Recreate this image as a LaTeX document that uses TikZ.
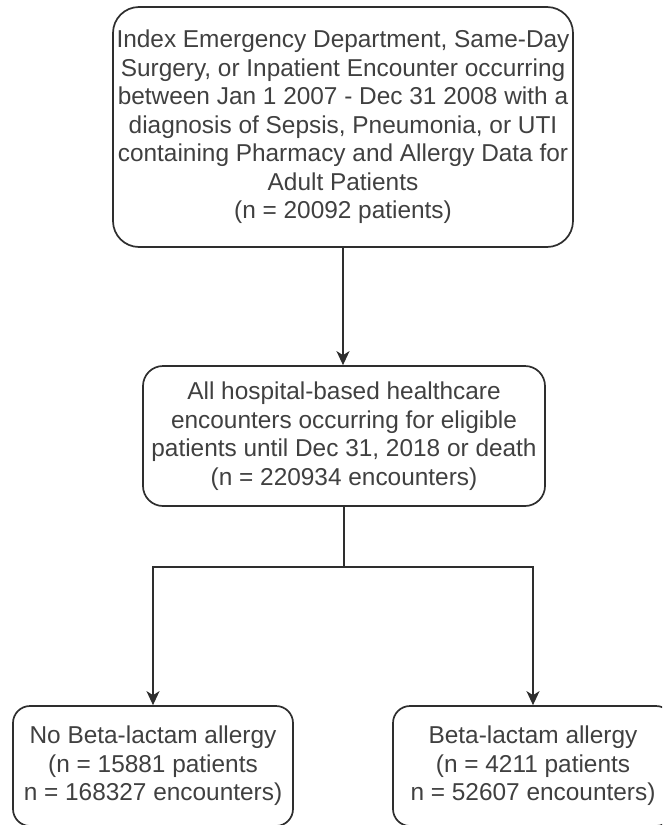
\documentclass[tikz,border=0pt]{standalone}
\usepackage{fontspec}
\setmainfont{Liberation Sans}
\usetikzlibrary{arrows.meta}
\definecolor{linec}{HTML}{2E2E2E}
\definecolor{textc}{HTML}{404040}
\begin{document}
\begin{tikzpicture}[x=1pt,y=-1pt,
  box/.style={draw=linec, line width=1.7pt, fill=white, inner sep=0pt,
    align=center, text=textc, font=\fontsize{24.4}{28.5}\selectfont},
  link/.style={draw=linec, line width=1.7pt},
  tip/.style={-{Stealth[length=14pt,width=13pt,inset=4pt]}}]
\useasboundingbox (0,0) rectangle (662,825);
\clip (0,0) rectangle (662,825);

% cohort boxes
\node[box, rounded corners=26pt, minimum width=460pt, minimum height=240pt] (idx) at (343,127)
  {Index Emergency Department, Same-Day\\Surgery, or Inpatient Encounter occurring\\between Jan 1 2007 - Dec 31 2008 with a\\diagnosis of Sepsis, Pneumonia, or UTI\\containing Pharmacy and Allergy Data for\\Adult Patients\\(n = 20092 patients)};
\node[box, rounded corners=20pt, minimum width=402pt, minimum height=140pt] (all) at (344,436)
  {All hospital-based healthcare\\encounters occurring for eligible\\patients until Dec 31, 2018 or death\\(n = 220934 encounters)};
\node[box, rounded corners=17pt, minimum width=280pt, minimum height=120pt] (nobl) at (153,766)
  {No Beta-lactam allergy\\(n = 15881 patients\\n = 168327 encounters)};
\node[box, rounded corners=17pt, minimum width=280pt, minimum height=120pt] (bl) at (533,766)
  {Beta-lactam allergy\\(n = 4211 patients\\n = 52607 encounters)};

% connectors
\draw[link,tip] (idx.south) -- (idx.south |- all.north);
\coordinate (fork) at (344,567);
\draw[link] (all.south) -- (fork);
\draw[link,tip] (fork) -| (nobl.north);
\draw[link,tip] (fork) -| (bl.north);
\end{tikzpicture}
\end{document}
